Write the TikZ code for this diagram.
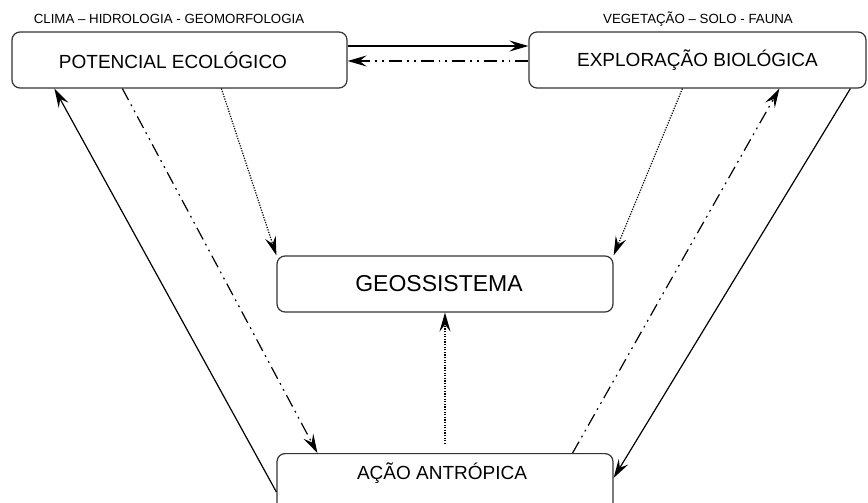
\documentclass[tikz,border=0pt]{standalone}
\usepackage{fontspec}
\setmainfont{Liberation Sans}
\usetikzlibrary{arrows.meta}
\tikzset{
  box/.style={draw=black!80, line width=1.2pt, rounded corners=8pt, inner sep=0pt},
  arr/.style={line width=1.2pt, -{Stealth[length=19pt,width=11pt,inset=7pt]}},
  ddot/.style={arr, dash pattern=on 13pt off 5pt on 1.8pt off 5pt on 1.8pt off 5pt},
  dots/.style={arr, line width=1.2pt, dash pattern=on 1.2pt off 1.4pt},
  big/.style={font=\fontsize{19}{22}\selectfont},
  small/.style={font=\fontsize{13.3}{15}\selectfont}
}
\begin{document}
\begin{tikzpicture}[x=1pt,y=-1pt]
\useasboundingbox (0,0) rectangle (868,503);
\clip (0,0) rectangle (868,503);
% boxes
\node[box, minimum width=335pt, minimum height=56pt] (pe) at (179.5,60) {};
\node[big] at (173,60) {POTENCIAL ECOLÓGICO};
\node[box, minimum width=337pt, minimum height=56pt] (eb) at (697.5,60) {};
\node[big] at (697.5,60) {EXPLORAÇÃO BIOLÓGICA};
\node[box, minimum width=336pt, minimum height=56pt] (geo) at (445,284) {};
\node[font=\fontsize{23}{26}\selectfont] at (439,284) {GEOSSISTEMA};
\node[box, minimum width=336pt, minimum height=77pt, anchor=north] (aa) at (445,453) {};
\node[big] at (442,473) {AÇÃO ANTRÓPICA};
% labels above
\node[small] (l1) at (169,19) {CLIMA – HIDROLOGIA - GEOMORFOLOGIA};
\node[small] (l2) at (698,19) {VEGETAÇÃO – SOLO - FAUNA};
% horizontal connectors
\draw[arr] ([yshift=14pt]pe.east) -- ([yshift=14pt]eb.west);
\draw[ddot] ([yshift=-1pt]eb.west) -- ([yshift=-1pt]pe.east);
% left side
\draw[arr] ([yshift=-39pt]aa.north west) -- ([xshift=43pt]pe.south west);
\draw[ddot] ([xshift=111pt]pe.south west) -- ([xshift=41pt]aa.north west);
\draw[dots] ([xshift=210pt]pe.south west) -- (geo.north west);
% right side
\draw[dots] ([xshift=154pt]eb.south west) -- (geo.north east);
\draw[ddot] ([xshift=-41pt]aa.north east) -- ([xshift=251pt]eb.south west);
\draw[arr] ([xshift=322pt]eb.south west) -- ([yshift=-25pt]aa.north east);
% vertical
\draw[dots] ([yshift=9pt]aa.north) -- (geo.south);
\end{tikzpicture}
\end{document}
